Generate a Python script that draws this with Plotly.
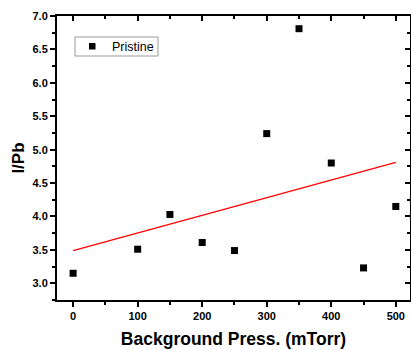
import numpy as np
import plotly.graph_objects as go

pressure = [0, 100, 150, 200, 250, 300, 350, 400, 450, 500]
ipb = [3.15, 3.51, 4.03, 3.61, 3.49, 5.24, 6.81, 4.80, 3.23, 4.15]
series_name = "Pristine"
x_title = "Background Press. (mTorr)"
y_title = "I/Pb"

slope, intercept = np.polyfit(pressure, ipb, 1)
fit_x = [min(pressure), max(pressure)]
fit_y = [intercept + slope * v for v in fit_x]

font = "Liberation Sans, Arial, sans-serif"

fig = go.Figure()
fig.add_trace(go.Scatter(x=pressure, y=ipb, mode="markers", name=series_name,
                         showlegend=False,
                         marker=dict(symbol="square", size=7, color="black")))
fig.add_trace(go.Scatter(x=fit_x, y=fit_y, mode="lines", showlegend=False,
                         line=dict(color="#ff0000", width=1.3)))
# invisible trace for mirrored axes
fig.add_trace(go.Scatter(x=fit_x, y=fit_y, xaxis="x2", yaxis="y2", mode="lines",
                         line=dict(width=0), showlegend=False, hoverinfo="skip"))

xr = [-25, 522]
yr = [2.75, 7.0]
xt = [0, 100, 200, 300, 400, 500]
xm = [50, 150, 250, 350, 450]
yt = [3.0, 3.5, 4.0, 4.5, 5.0, 5.5, 6.0, 6.5, 7.0]
ytl = ["3.0", "3.5", "4.0", "4.5", "5.0", "5.5", "6.0", "6.5", "7.0"]
ym = [2.75, 3.25, 3.75, 4.25, 4.75, 5.25, 5.75, 6.25, 6.75]

# legend box (drawn in paper coordinates)
L, T, W, H = 57, 16, 353, 284
def px(xp): return (xp - L) / W
def py(yp): return (T + H - yp) / H

fig.update_layout(
    width=411, height=350,
    margin=dict(l=57, r=1, t=16, b=50, autoexpand=False),
    paper_bgcolor="white", plot_bgcolor="white",
    font=dict(family=font, color="black"),
    showlegend=False,
    shapes=[
        dict(type="rect", xref="paper", yref="paper",
             x0=px(75), x1=px(158), y0=py(56), y1=py(37),
             line=dict(color="#999999", width=1), fillcolor="white", layer="below"),
        dict(type="rect", xref="paper", yref="paper",
             x0=px(89), x1=px(95.5), y0=py(49.5), y1=py(43),
             line=dict(width=0), fillcolor="black"),
    ],
    annotations=[
        dict(text=series_name, xref="paper", yref="paper", x=px(110), y=py(46.5),
             xanchor="left", yanchor="middle", showarrow=False,
             font=dict(size=12.5, family=font, color="black")),
    ],
    xaxis=dict(range=xr, showgrid=False, zeroline=False, automargin=False,
               showline=True, linecolor="black", linewidth=2,
               ticks="outside", ticklen=5, tickwidth=2, tickcolor="black",
               tickmode="array", tickvals=xt,
               tickfont=dict(size=11, family=font, weight="bold"),
               minor=dict(tickvals=xm, ticks="outside",
                          ticklen=3, tickwidth=2, tickcolor="black"),
               title=dict(text=x_title, font=dict(size=17.5, family=font, weight="bold"),
                          standoff=12)),
    yaxis=dict(range=yr, showgrid=False, zeroline=False, automargin=False,
               showline=True, linecolor="black", linewidth=2,
               ticks="outside", ticklen=5, tickwidth=2, tickcolor="black",
               tickmode="array", tickvals=yt, ticktext=ytl,
               tickfont=dict(size=11, family=font, weight="bold"),
               minor=dict(tickvals=ym, ticks="outside",
                          ticklen=3, tickwidth=2, tickcolor="black"),
               title=dict(text=y_title, font=dict(size=17, family=font, weight="bold"),
                          standoff=4)),
    xaxis2=dict(range=xr, overlaying="x", side="top", showgrid=False, zeroline=False,
                showline=True, linecolor="black", linewidth=2, automargin=False,
                ticks="inside", ticklen=5, tickwidth=2, tickcolor="black",
                tickmode="array", tickvals=xt, showticklabels=False,
                minor=dict(tickvals=xm, ticks="inside",
                           ticklen=3, tickwidth=2, tickcolor="black")),
    yaxis2=dict(range=yr, overlaying="y", side="right", showgrid=False, zeroline=False,
                showline=True, linecolor="black", linewidth=2, automargin=False,
                ticks="inside", ticklen=5, tickwidth=2, tickcolor="black",
                tickmode="array", tickvals=yt, showticklabels=False,
                minor=dict(tickvals=ym, ticks="inside",
                           ticklen=3, tickwidth=2, tickcolor="black")),
)

fig.write_html("out.html", config={"displayModeBar": False},
               post_script="document.body.style.margin='0';")
